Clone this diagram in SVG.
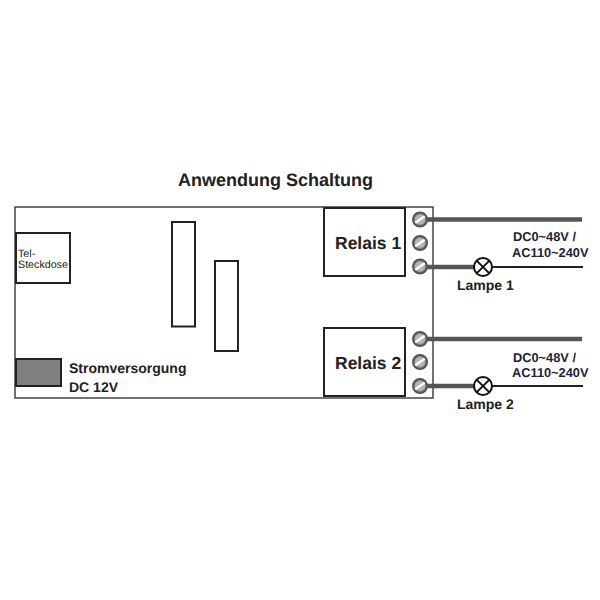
<svg xmlns="http://www.w3.org/2000/svg" width="600" height="600" viewBox="0 0 600 600">
<defs>
<g id="screw"><circle r="7" fill="#8a8a8a"/><circle r="5" fill="#b5b5b5"/><line x1="-5" y1="3.500" x2="5" y2="-3.500" stroke="#fff" stroke-width="2.200"/><circle r="7" fill="none" stroke="#555" stroke-width="2"/></g>
<g id="lamp"><circle r="9" fill="#fff" stroke="#111" stroke-width="2"/><line x1="-6.400" y1="-6.400" x2="6.400" y2="6.400" stroke="#111" stroke-width="2"/><line x1="-6.400" y1="6.400" x2="6.400" y2="-6.400" stroke="#111" stroke-width="2"/></g>
</defs>
<style>
text{font-family:"Liberation Sans",Arial,sans-serif;fill:#222;font-weight:bold;text-rendering:geometricPrecision}
.box{fill:#fff;stroke:#222;stroke-width:2}
.thick{stroke:#555;stroke-width:4.500;fill:none}
.thin{stroke:#222;stroke-width:2;fill:none}
.volt{font-size:12.800px;fill:#1c2434}
.lbl{font-size:14px}
.rel{font-size:17.500px}
</style>
<rect width="600" height="600" fill="#fff"/>
<text x="275.500" y="186" font-size="18" text-anchor="middle">Anwendung Schaltung</text>
<g id="board"><rect x="15" y="207" width="418" height="191" fill="#fff" stroke="#444" stroke-width="1.500"/></g>
<g id="tel"><rect class="box" x="16" y="233" width="54" height="50"/>
<text x="18" y="257" font-size="10.700" style="font-weight:normal">Tel-</text>
<text x="18" y="268" font-size="10.700" style="font-weight:normal">Steckdose</text></g>
<g id="slot1"><rect class="box" x="172" y="222" width="23" height="104.500"/></g>
<g id="slot2"><rect class="box" x="215" y="261" width="23" height="90"/></g>
<g id="power"><rect x="16" y="359" width="45" height="27" fill="#7f7f7f" stroke="#222" stroke-width="2"/>
<text class="lbl" x="69" y="372.500">Stromversorgung</text>
<text class="lbl" x="69" y="392">DC 12V</text></g>
<g id="relais1"><rect class="box" x="324" y="208" width="81" height="68"/><text class="rel" x="335" y="249">Relais 1</text></g>
<g id="relais2"><rect class="box" x="324" y="328" width="81" height="68"/><text class="rel" x="335" y="369">Relais 2</text></g>
<g id="connectors">
<line class="thick" x1="421" y1="219.500" x2="582" y2="219.500"/>
<line class="thick" x1="421" y1="267" x2="475" y2="267"/>
<line class="thin" x1="490" y1="267" x2="583" y2="267"/>
<line class="thick" x1="421" y1="339" x2="582" y2="339"/>
<line class="thick" x1="421" y1="386" x2="475" y2="386"/>
<line class="thin" x1="490" y1="386" x2="583" y2="386"/>
</g>
<g id="terminals1"><use href="#screw" x="420" y="219.500"/><use href="#screw" x="420" y="243"/><use href="#screw" x="420" y="266.500"/></g>
<g id="terminals2"><use href="#screw" x="420" y="339"/><use href="#screw" x="420" y="362"/><use href="#screw" x="420" y="386"/></g>
<g id="lampe1"><use href="#lamp" x="483" y="267"/><text class="lbl" x="457" y="290">Lampe 1</text></g>
<g id="lampe2"><use href="#lamp" x="483" y="386"/><text class="lbl" x="457" y="409">Lampe 2</text></g>
<g id="volt1"><text class="volt" x="513" y="241">DC0~48V /</text><text class="volt" x="512" y="256.500">AC110~240V</text></g>
<g id="volt2"><text class="volt" x="513" y="362">DC0~48V /</text><text class="volt" x="512" y="377">AC110~240V</text></g>
</svg>
